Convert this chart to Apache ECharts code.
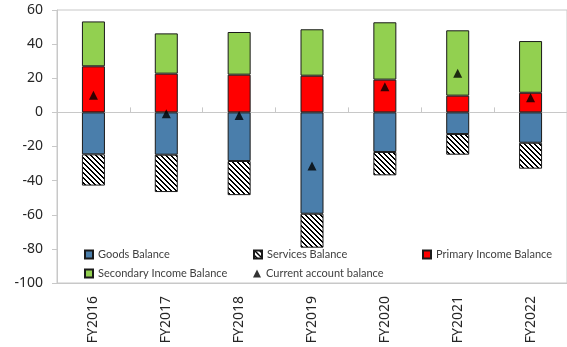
<!DOCTYPE html>
<html>
<head>
<meta charset="utf-8">
<script src="https://cdn.jsdelivr.net/npm/echarts@6/dist/echarts.min.js"></script>
<style>
html,body{margin:0;padding:0;background:#fff;}
#chart{width:567px;height:347px;}
</style>
</head>
<body>
<div id="chart"></div>
<script>
var years = ['FY2016','FY2017','FY2018','FY2019','FY2020','FY2021','FY2022'];
var goods = [-24.6, -24.8, -28.5, -59.4, -23.2, -12.7, -17.8];
var services = [-18.3, -21.9, -20.0, -19.9, -13.7, -12.1, -15.2];
var primary = [27.0, 22.7, 22.1, 21.5, 19.2, 9.8, 11.5];
var secondary = [26.3, 23.6, 25.0, 27.2, 33.6, 38.3, 30.3];
var current = [10.0, -0.8, -1.9, -31.4, 15.0, 22.9, 8.6];

// hatch pattern for services
function hatch(){
    var c = document.createElement('canvas');
    c.width = 5; c.height = 5;
    var ctx = c.getContext('2d');
    ctx.fillStyle = '#fff';
    ctx.fillRect(0,0,5,5);
    ctx.fillStyle = '#000';
    for (var i=0;i<5;i++){
        ctx.fillRect(i, i, 1, 1);
        ctx.fillRect((i+1)%5, i, 1, 1);
    }
    return c;
}

var chartDom = document.getElementById('chart');
var myChart = echarts.init(chartDom);
var option;

var font = 'Noto Sans';
var legendText = {fontFamily: 'Lato', fontSize: 11, color: '#404040'};

function leg(name, left, top, icon){
    return {
        data: [name], left: left, top: top,
        itemWidth: 8, itemHeight: 8, itemGap: 2,
        icon: icon || 'rect',
        padding: 0,
        textStyle: legendText
    };
}

option = {
    animation: false,
    grid: {
        left: 57, right: 0, top: 10, bottom: 64,
        show: true, borderColor: '#c8c8c8', borderWidth: 1
    },
    legend: [
        leg('Goods Balance', 84, 249),
        leg('Services Balance', 253, 249),
        leg('Primary Income Balance', 422, 249),
        leg('Secondary Income Balance', 84, 268),
        leg('Current account balance', 253, 268, 'triangle')
    ],
    xAxis: [
        {
            type: 'category',
            data: years,
            position: 'bottom',
            axisLine: {onZero: false, lineStyle: {color: '#c8c8c8'}},
            axisTick: {show: false},
            axisLabel: {
                rotate: 90, fontFamily: font, fontSize: 14, color: '#262626', margin: 13
            }
        },
        {
            type: 'category',
            data: years,
            position: 'bottom',
            axisLine: {onZero: true, lineStyle: {color: '#c8c8c8'}},
            axisTick: {show: true, inside: true, length: 5, lineStyle: {color: '#c8c8c8'}},
            axisLabel: {show: false}
        }
    ],
    yAxis: {
        type: 'value',
        min: -100, max: 60, interval: 20,
        axisLine: {show: true, lineStyle: {color: '#c8c8c8'}},
        axisTick: {show: true, length: 5, lineStyle: {color: '#c8c8c8'}},
        splitLine: {show: false},
        axisLabel: {fontFamily: font, fontSize: 14, color: '#262626', margin: 14}
    },
    series: [
        {
            name: 'Goods Balance', type: 'bar', stack: 'bal', barWidth: 23,
            itemStyle: {color: '#4a7eab', borderColor: '#1a1a1a', borderWidth: 1},
            data: goods
        },
        {
            name: 'Services Balance', type: 'bar', stack: 'bal', barWidth: 23,
            itemStyle: {color: {image: hatch(), repeat: 'repeat'}, borderColor: '#1a1a1a', borderWidth: 1},
            data: services
        },
        {
            name: 'Primary Income Balance', type: 'bar', stack: 'bal', barWidth: 23,
            itemStyle: {color: '#ff0000', borderColor: '#1a1a1a', borderWidth: 1},
            data: primary
        },
        {
            name: 'Secondary Income Balance', type: 'bar', stack: 'bal', barWidth: 23,
            itemStyle: {color: '#92d050', borderColor: '#1a1a1a', borderWidth: 1},
            data: secondary
        },
        {
            name: 'Current account balance', type: 'scatter',
            symbol: 'triangle', symbolSize: 9,
            itemStyle: {color: '#000'},
            z: 5,
            data: current
        }
    ]
};

option && myChart.setOption(option);
</script>
</body>
</html>
